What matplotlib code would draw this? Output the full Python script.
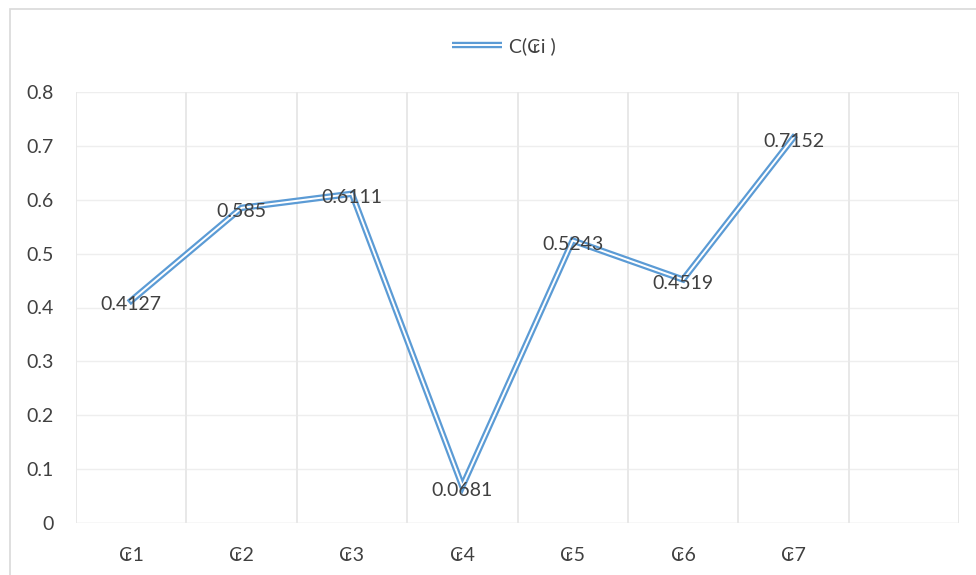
import matplotlib
matplotlib.use("Agg")
import matplotlib.pyplot as plt
from matplotlib.patches import Rectangle
from matplotlib.lines import Line2D
from matplotlib.legend_handler import HandlerTuple
import numpy as np

plt.rcParams['font.family'] = ['Lato', 'DejaVu Sans']

categories = ["₢1", "₢2", "₢3", "₢4", "₢5", "₢6", "₢7"]
values = [0.4127, 0.585, 0.6111, 0.0681, 0.5243, 0.4519, 0.7152]
value_labels = ["0.4127", "0.585", "0.6111", "0.0681", "0.5243", "0.4519", "0.7152"]
series_name = "C(₢i )"
y_ticks = [0, 0.1, 0.2, 0.3, 0.4, 0.5, 0.6, 0.7, 0.8]
y_tick_labels = ["0", "0.1", "0.2", "0.3", "0.4", "0.5", "0.6", "0.7", "0.8"]
n_slots = 8  # one empty category slot after the last point

blue = "#5B9BD5"
hgrid = "#EEEEEE"
vgrid = "#E8E8E8"
text_col = "#404040"
fs = 14

fig = plt.figure(figsize=(9.76, 5.75), dpi=100)
# outer chart frame
fig.patches.append(Rectangle((10 / 976, -0.1), 1.2, 1 - 9 / 575 + 0.1,
                             transform=fig.transFigure, fill=False,
                             edgecolor="#D9D9D9", linewidth=1.2))

ax = fig.add_axes([76 / 976, 52 / 575, (959 - 76) / 976, (523 - 92) / 575])
x = np.arange(len(categories))

ax.set_xlim(-0.5, n_slots - 0.5)
ax.set_ylim(0, 0.8)

# gridlines
for yv in y_ticks[1:]:
    ax.axhline(yv, color=hgrid, lw=1.0, zorder=0)
ax.axhline(0, color="#D9D9D9", lw=1.0, zorder=0)
for b in np.arange(-0.5, n_slots, 1.0):
    ax.axvline(b, color=vgrid, lw=1.4, zorder=0)

# double line: blue outline with white core
ax.plot(x, values, color=blue, lw=4.6, solid_joinstyle="miter", zorder=3)
ax.plot(x, values, color="white", lw=1.4, solid_joinstyle="miter", zorder=4)

for xi, v, lab in zip(x, values, value_labels):
    ax.annotate(lab, (xi, v), xytext=(0, -4), textcoords="offset pixels",
                ha="center", va="center", fontsize=fs, color=text_col, zorder=5)

for s in ax.spines.values():
    s.set_visible(False)
ax.set_yticks(y_ticks)
ax.set_yticklabels(y_tick_labels)
ax.set_xticks(x)
ax.set_xticklabels(categories)
ax.tick_params(axis="both", length=0, labelsize=fs, colors=text_col)
ax.tick_params(axis="y", pad=16)
ax.tick_params(axis="x", pad=17)

# legend with the same double-line look
h_outer = Line2D([0], [0], color=blue, lw=4.6, solid_capstyle="butt")
h_inner = Line2D([0], [0], color="white", lw=1.4, solid_capstyle="butt")
leg = fig.legend(handles=[(h_outer, h_inner)], labels=[series_name],
                 loc="center", bbox_to_anchor=(504 / 976, 1 - 46 / 575),
                 frameon=False, fontsize=fs, handlelength=2.6,
                 handletextpad=0.35,
                 handler_map={tuple: HandlerTuple(ndivide=1, pad=0)})
for t in leg.get_texts():
    t.set_color(text_col)

fig.savefig("out.png", dpi=100)
